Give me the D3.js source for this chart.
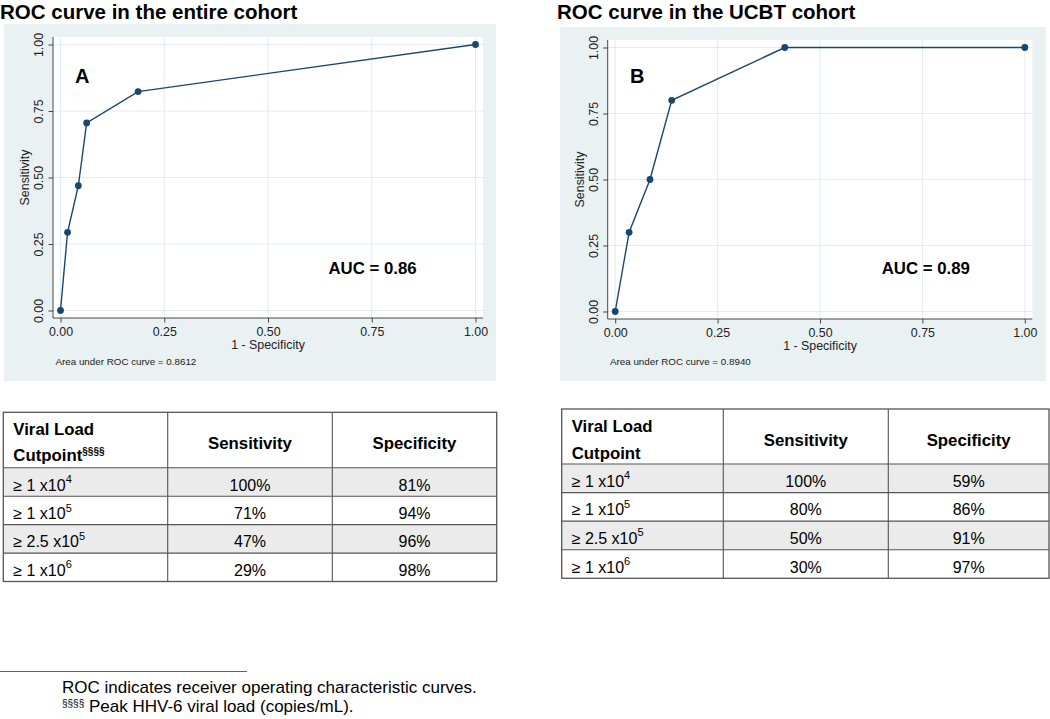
<!DOCTYPE html>
<html>
<head>
<meta charset="utf-8">
<script src="https://cdn.jsdelivr.net/npm/d3@7"></script>
<style>
  html, body { margin: 0; padding: 0; background: #ffffff; }
  svg { display: block; }
  text { font-family: "Liberation Sans", Arial, Helvetica, sans-serif; }
</style>
</head>
<body>
<svg id="chart" width="1050" height="719"></svg>
<script>
// ---------------- DATA ----------------
const titleA = "ROC curve in the entire cohort";
const titleB = "ROC curve in the UCBT cohort";
const panelLetters = ["A", "B"];

// ROC points (1 - specificity, sensitivity)
const fprA  = [0, 0.017, 0.043, 0.063, 0.187, 1];
const sensA = [0, 0.294, 0.469, 0.705, 0.823, 1];
const fprB  = [0, 0.034, 0.085, 0.138, 0.414, 1];
const sensB = [0, 0.300, 0.500, 0.800, 1.000, 1];

const axisTicks = [0, 0.25, 0.5, 0.75, 1];
const axisTickLabels = ["0.00", "0.25", "0.50", "0.75", "1.00"];
const xTitle = "1 - Specificity";
const yTitle = "Sensitivity";
const aucLabels = ["AUC = 0.86", "AUC = 0.89"];
const areaNotes = ["Area under ROC curve = 0.8612", "Area under ROC curve = 0.8940"];

// Tables
const tableHeaders = ["Sensitivity", "Specificity"];
const cutpointBase = ["\u2265 1 x10", "\u2265 1 x10", "\u2265 2.5 x10", "\u2265 1 x10"];
const cutpointExp  = ["4", "5", "5", "6"];
const tableSensA = ["100%", "71%", "47%", "29%"];
const tableSpecA = ["81%", "94%", "96%", "98%"];
const tableSensB = ["100%", "80%", "50%", "30%"];
const tableSpecB = ["59%", "86%", "91%", "97%"];

const footLine1 = "ROC indicates receiver operating characteristic curves.";
const footMark = "\u00a7\u00a7\u00a7\u00a7";
const footLine2 = " Peak HHV-6 viral load (copies/mL).";

// ---------------- LAYOUT ----------------
const svg = d3.select("#chart");
const NAVY = "#1a476f";
const BG = "#e9f1f3";
const GRID = "#e2ebee";

const panels = [
  { title: titleA, titleX: 0, fpr: fprA, sens: sensA,
    bg: { x: 4, y: 24, w: 492, h: 357 },
    plot: { l: 53, r: 483, t: 37, b: 318 },
    letterPos: [75, 83], aucPos: [328.5, 274], notePos: [55.5, 364.5],
    letter: panelLetters[0], auc: aucLabels[0], note: areaNotes[0] },
  { title: titleB, titleX: 557, fpr: fprB, sens: sensB,
    bg: { x: 560, y: 27, w: 486, h: 354 },
    plot: { l: 607.7, r: 1032.3, t: 40, b: 319 },
    letterPos: [630, 82.7], aucPos: [881.7, 274], notePos: [610, 364.5],
    letter: panelLetters[1], auc: aucLabels[1], note: areaNotes[1] }
];

const PAD = 7.5;

panels.forEach(p => {
  // title
  svg.append("text")
    .attr("x", p.titleX).attr("y", 18.6)
    .attr("font-size", 20.5).attr("font-weight", "bold").attr("fill", "#000")
    .text(p.title);

  // background
  svg.append("rect")
    .attr("x", p.bg.x).attr("y", p.bg.y).attr("width", p.bg.w).attr("height", p.bg.h)
    .attr("fill", BG);
  // plot region
  svg.append("rect")
    .attr("x", p.plot.l).attr("y", p.plot.t)
    .attr("width", p.plot.r - p.plot.l).attr("height", p.plot.b - p.plot.t)
    .attr("fill", "#ffffff");

  const x = d3.scaleLinear().domain([0, 1]).range([p.plot.l + PAD, p.plot.r - PAD]);
  const y = d3.scaleLinear().domain([0, 1]).range([p.plot.b - PAD, p.plot.t + PAD]);

  const g = svg.append("g");

  // grid
  g.selectAll(".gx").data(axisTicks).enter().append("line")
    .attr("x1", d => x(d)).attr("x2", d => x(d))
    .attr("y1", p.plot.t).attr("y2", p.plot.b)
    .attr("stroke", GRID).attr("stroke-width", 1);
  g.selectAll(".gy").data(axisTicks).enter().append("line")
    .attr("y1", d => y(d)).attr("y2", d => y(d))
    .attr("x1", p.plot.l).attr("x2", p.plot.r)
    .attr("stroke", GRID).attr("stroke-width", 1);

  // x axis
  const xAxis = d3.axisBottom(x).tickValues(axisTicks)
    .tickFormat((d, i) => axisTickLabels[i]).tickSize(4.5).tickSizeOuter(0);
  const gx = g.append("g").attr("transform", `translate(0,${p.plot.b})`).call(xAxis);
  gx.select(".domain").remove();
  gx.selectAll(".tick line").attr("stroke", "#333").attr("stroke-width", 0.9);
  gx.selectAll(".tick text").attr("y", 18.3).attr("dy", null)
    .attr("font-size", 12.4).attr("fill", "#222")
    .attr("font-family", "Liberation Sans, Arial, sans-serif");
  g.append("line").attr("x1", p.plot.l).attr("x2", p.plot.r)
    .attr("y1", p.plot.b).attr("y2", p.plot.b)
    .attr("stroke", "#333").attr("stroke-width", 0.9);

  // y axis
  const yAxis = d3.axisLeft(y).tickValues(axisTicks)
    .tickFormat((d, i) => axisTickLabels[i]).tickSize(4.5).tickSizeOuter(0);
  const gy = g.append("g").attr("transform", `translate(${p.plot.l},0)`).call(yAxis);
  gy.select(".domain").remove();
  gy.selectAll(".tick line").attr("stroke", "#333").attr("stroke-width", 0.9);
  gy.selectAll(".tick text")
    .attr("x", null).attr("dy", null).attr("y", null)
    .attr("text-anchor", "middle")
    .attr("transform", "translate(-9.6,0) rotate(-90)")
    .attr("font-size", 12.4).attr("fill", "#222")
    .attr("font-family", "Liberation Sans, Arial, sans-serif");
  g.append("line").attr("x1", p.plot.l).attr("x2", p.plot.l)
    .attr("y1", p.plot.t).attr("y2", p.plot.b)
    .attr("stroke", "#333").attr("stroke-width", 0.9);

  // axis titles
  g.append("text")
    .attr("x", (x.range()[0] + x.range()[1]) / 2).attr("y", p.plot.b + 30.5)
    .attr("text-anchor", "middle").attr("font-size", 12.4).attr("fill", "#222")
    .text(xTitle);
  g.append("text")
    .attr("transform", `translate(${p.plot.l - 24},${(y.range()[0] + y.range()[1]) / 2}) rotate(-90)`)
    .attr("text-anchor", "middle").attr("font-size", 12.4).attr("fill", "#222")
    .text(yTitle);

  // ROC line + markers
  const pts = p.fpr.map((f, i) => [f, p.sens[i]]);
  g.append("path").datum(pts)
    .attr("d", d3.line().x(d => x(d[0])).y(d => y(d[1])))
    .attr("fill", "none").attr("stroke", NAVY).attr("stroke-width", 1.4);
  g.selectAll(".pt").data(pts).enter().append("circle")
    .attr("cx", d => x(d[0])).attr("cy", d => y(d[1])).attr("r", 3.4)
    .attr("fill", NAVY);

  // annotations
  g.append("text").attr("x", p.letterPos[0]).attr("y", p.letterPos[1])
    .attr("font-size", 20).attr("font-weight", "bold").text(p.letter);
  g.append("text").attr("x", p.aucPos[0]).attr("y", p.aucPos[1])
    .attr("font-size", 16.8).attr("font-weight", "bold").text(p.auc);
  g.append("text").attr("x", p.notePos[0]).attr("y", p.notePos[1])
    .attr("font-size", 9.8).attr("fill", "#222").text(p.note);
});

// ---------------- TABLES ----------------
const tables = [
  { l: 3.3, r: 496.7, t: 412.3, hb: 467.8, b: 581.5, c1: 167.7, c2: 332.3,
    sens: tableSensA, spec: tableSpecA, mark: true,
    hdr: [435, 461, 449.3] },
  { l: 561.7, r: 1049, t: 409, hb: 464, b: 578.3, c1: 723.3, c2: 888.3,
    sens: tableSensB, spec: tableSpecB, mark: false,
    hdr: [431.7, 459, 446] }
];

tables.forEach(T => {
  const g = svg.append("g");
  const rowY = d3.scaleBand().domain(d3.range(4)).range([T.hb, T.b]).padding(0);
  const rh = rowY.bandwidth();

  // shaded rows
  g.selectAll(".shade").data([0, 2]).enter().append("rect")
    .attr("x", T.l).attr("y", d => rowY(d)).attr("width", T.r - T.l).attr("height", rh)
    .attr("fill", "#ebebeb");

  // grid lines
  const lc = "#555";
  g.append("rect").attr("x", T.l).attr("y", T.t).attr("width", T.r - T.l).attr("height", T.b - T.t)
    .attr("fill", "none").attr("stroke", lc).attr("stroke-width", 1.3);
  [T.hb, rowY(1), rowY(2), rowY(3)].forEach(yy => {
    g.append("line").attr("x1", T.l).attr("x2", T.r).attr("y1", yy).attr("y2", yy)
      .attr("stroke", lc).attr("stroke-width", 1.1);
  });
  [T.c1, T.c2].forEach(xx => {
    g.append("line").attr("x1", xx).attr("x2", xx).attr("y1", T.t).attr("y2", T.b)
      .attr("stroke", lc).attr("stroke-width", 1.1);
  });

  // header
  g.append("text").attr("x", T.l + 10).attr("y", T.hdr[0])
    .attr("font-size", 16.8).attr("font-weight", "bold").text("Viral Load");
  const cut = g.append("text").attr("x", T.l + 10).attr("y", T.hdr[1])
    .attr("font-size", 16.8).attr("font-weight", "bold");
  cut.append("tspan").text("Cutpoint");
  if (T.mark) {
    cut.append("tspan").attr("font-size", 10).attr("dy", -6.5).text(footMark);
  }
  g.append("text").attr("x", (T.c1 + T.c2) / 2).attr("y", T.hdr[2])
    .attr("text-anchor", "middle").attr("font-size", 16.8).attr("font-weight", "bold")
    .text(tableHeaders[0]);
  g.append("text").attr("x", (T.c2 + T.r) / 2).attr("y", T.hdr[2])
    .attr("text-anchor", "middle").attr("font-size", 16.8).attr("font-weight", "bold")
    .text(tableHeaders[1]);

  // body
  d3.range(4).forEach(i => {
    const by = rowY(i) + 22.8;
    const t = g.append("text").attr("x", T.l + 10).attr("y", by).attr("font-size", 16);
    t.append("tspan").text(cutpointBase[i]);
    t.append("tspan").attr("font-size", 11).attr("dy", -7.5).text(cutpointExp[i]);
    g.append("text").attr("x", (T.c1 + T.c2) / 2).attr("y", by)
      .attr("text-anchor", "middle").attr("font-size", 16).text(T.sens[i]);
    g.append("text").attr("x", (T.c2 + T.r) / 2).attr("y", by)
      .attr("text-anchor", "middle").attr("font-size", 16).text(T.spec[i]);
  });
});

// ---------------- FOOTNOTE ----------------
svg.append("line").attr("x1", 0).attr("x2", 247).attr("y1", 671.5).attr("y2", 671.5)
  .attr("stroke", "#4a55e8").attr("stroke-width", 1);
svg.append("text").attr("x", 62).attr("y", 693).attr("font-size", 17).text(footLine1);
const f2 = svg.append("text").attr("x", 62).attr("y", 712).attr("font-size", 17);
f2.append("tspan").attr("font-size", 10).attr("dy", -5.5).text(footMark);
f2.append("tspan").attr("dy", 5.5).text(footLine2);
</script>
</body>
</html>
